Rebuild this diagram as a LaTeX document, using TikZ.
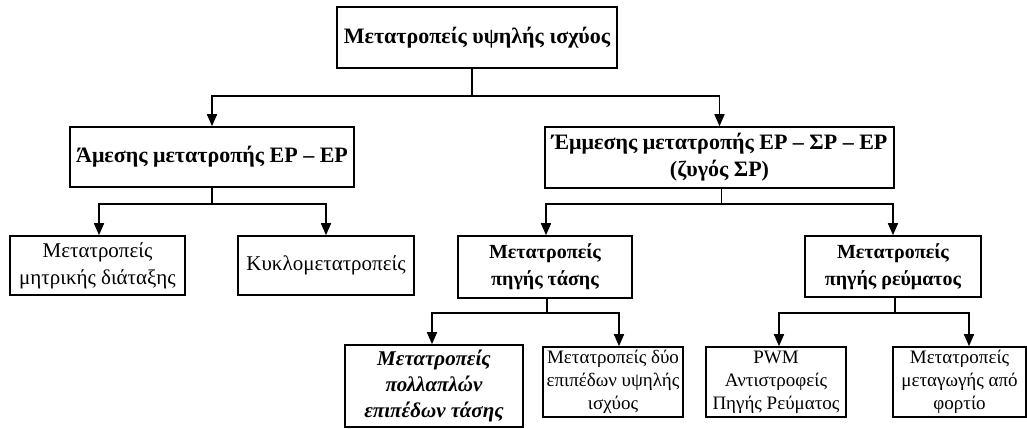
\documentclass[tikz,border=0pt]{standalone}
\usepackage{fontspec}
\setmainfont{Liberation Serif}
\usetikzlibrary{arrows.meta}
\begin{document}
\begin{tikzpicture}
% 1 unit = 1px = 0.5pt, y runs downwards
[x=0.5pt,y=-0.5pt,line width=0.8pt,
 box/.style={draw,align=center,inner sep=0pt,font=\fontsize{10.5}{13.5}\selectfont},
 sbox/.style={box,font=\fontsize{9.5}{11.5}\selectfont},
 bbox/.style={box,font=\fontsize{11}{13.5}\selectfont\bfseries},
 mbox/.style={box,font=\fontsize{10}{13.5}\selectfont\bfseries},
 ibox/.style={box,font=\fontsize{10.5}{13}\selectfont\bfseries\itshape},
 arr/.style={-{Triangle[length=6pt,width=5pt]}}]
\useasboundingbox (0,0) rectangle (1027,428);
% level 0
\node[bbox,minimum width=140pt,minimum height=30.5pt] (top) at (477,37.5) {Μετατροπείς υψηλής ισχύος};
% level 1
\node[bbox,minimum width=142pt,minimum height=30pt] (direct) at (212,157) {Άμεσης μετατροπής ΕΡ – ΕΡ};
\node[bbox,minimum width=174.5pt,minimum height=30.5pt] (indirect) at (719.5,157.5) {Έμμεσης μετατροπής ΕΡ – ΣΡ – ΕΡ\\(ζυγός ΣΡ)};
% level 2
\node[box,minimum width=87.5pt,minimum height=29.5pt] (matrix) at (97.5,265.5) {Μετατροπείς\\μητρικής διάταξης};
\node[box,minimum width=88pt,minimum height=29.5pt] (cyclo) at (326,265.5) {Κυκλομετατροπείς};
\node[mbox,minimum width=87pt,minimum height=31pt] (vsrc) at (545,267) {Μετατροπείς\\πηγής τάσης};
\node[mbox,minimum width=88pt,minimum height=30.5pt] (csrc) at (893,266.5) {Μετατροπείς\\πηγής ρεύματος};
% level 3
\node[ibox,minimum width=89pt,minimum height=41pt] (multi) at (434,386) {Μετατροπείς\\πολλαπλών\\επιπέδων τάσης};
\node[sbox,minimum width=70pt,minimum height=35pt] (twolvl) at (613,382) {Μετατροπείς δύο\\επιπέδων υψηλής\\ισχύος};
\node[sbox,minimum width=70pt,minimum height=35pt] (pwm) at (776,382) {PWM\\Αντιστροφείς\\Πηγής Ρεύματος};
\node[sbox,minimum width=66.5pt,minimum height=35pt] (lci) at (959.5,382) {Μετατροπείς\\μεταγωγής από\\φορτίο};
% connectors
\draw[arr] ([xshift=-2.5pt]top.south) -- ++(0,27) -| (direct.north);
\draw[arr] ([xshift=-2.5pt]top.south) -- ++(0,27) -| (indirect.north);
\draw[arr] (direct.south) -- ++(0,16) -| ([xshift=0.75pt]matrix.north);
\draw[arr] (direct.south) -- ++(0,16) -| (cyclo.north);
\draw[arr] ([xshift=1pt]indirect.south) -- ++(0,15) -| ([xshift=0.5pt]vsrc.north);
\draw[arr] ([xshift=1pt]indirect.south) -- ++(0,15) -| (csrc.north);
\draw[arr] ([xshift=1pt]vsrc.south) -- ++(0,14) -| ([xshift=-1pt]multi.north);
\draw[arr] ([xshift=1pt]vsrc.south) -- ++(0,14) -| ([xshift=3pt]twolvl.north);
\draw[arr] ([xshift=1pt]csrc.south) -- ++(0,15) -| ([xshift=1.5pt]pwm.north);
\draw[arr] ([xshift=1pt]csrc.south) -- ++(0,15) -| ([xshift=4.75pt]lci.north);
\end{tikzpicture}
\end{document}
